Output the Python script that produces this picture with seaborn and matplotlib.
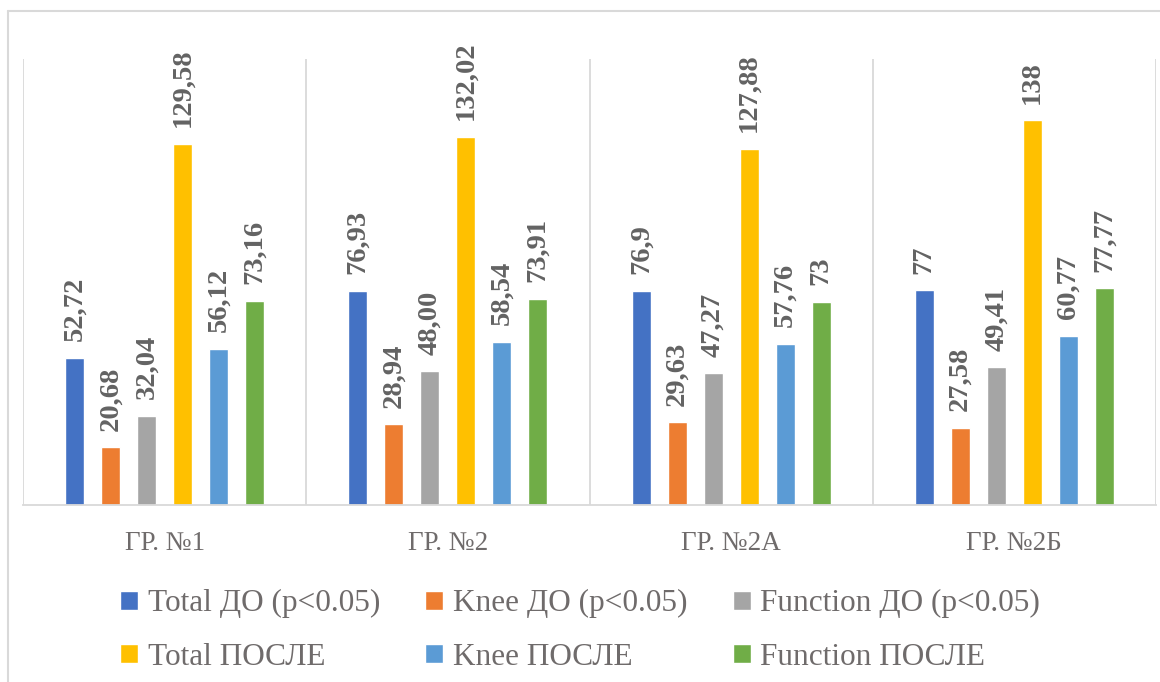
import matplotlib
matplotlib.use("Agg")
import matplotlib.pyplot as plt
from matplotlib.lines import Line2D
import pandas as pd
import seaborn as sns

# Groups and series
groups = ["ГР. №1", "ГР. №2", "ГР. №2А", "ГР. №2Б"]
series = ["Total ДО (p<0.05)", "Knee ДО (p<0.05)", "Function ДО (p<0.05)",
          "Total ПОСЛЕ", "Knee ПОСЛЕ", "Function ПОСЛЕ"]

# Values per series (as printed, decimal comma)
total_do = ["52,72", "76,93", "76,9", "77"]
knee_do = ["20,68", "28,94", "29,63", "27,58"]
function_do = ["32,04", "48,00", "47,27", "49,41"]
total_posle = ["129,58", "132,02", "127,88", "138"]
knee_posle = ["56,12", "58,54", "57,76", "60,77"]
function_posle = ["73,16", "73,91", "73", "77,77"]

colors = ["#4472C4", "#ED7D31", "#A5A5A5", "#FFC000", "#5B9BD5", "#70AD47"]

series_labels = [total_do, knee_do, function_do, total_posle, knee_posle, function_posle]

rows = []
for name, labels in zip(series, series_labels):
    for g, s in zip(groups, labels):
        rows.append({"group": g, "series": name, "value": float(s.replace(",", "."))})
df = pd.DataFrame(rows)

sns.set_theme(style="white")
plt.rcParams["font.family"] = ["Liberation Serif", "DejaVu Serif"]

fig = plt.figure(figsize=(11.6, 6.82), dpi=100)
ax = fig.add_axes([23 / 1160, 1 - 505 / 682, (1156 - 23) / 1160, (505 - 59) / 682])

sns.barplot(data=df, x="group", y="value", hue="series", order=groups,
            hue_order=series, palette=colors, saturation=1, width=0.763,
            gap=0.47, ax=ax, errorbar=None)

ax.set_ylim(0, 160)
ax.set_xlim(-0.5, len(groups) - 0.5)

# Category separators
for xb in [i - 0.5 for i in range(len(groups) + 1)]:
    ax.axvline(xb, color="#D9D9D9", lw=1.3, zorder=0)

for side in ["top", "right", "left"]:
    ax.spines[side].set_visible(False)
ax.spines["bottom"].set_color("#D9D9D9")
ax.spines["bottom"].set_linewidth(1.3)
ax.set_yticks([])
ax.set_xlabel("")
ax.set_ylabel("")
ax.tick_params(axis="x", length=0, pad=19, labelsize=19.5, labelcolor="#6f6b6b")

# Value labels
for cont, labels in zip(ax.containers, series_labels):
    ax.bar_label(cont, labels=labels, padding=12, rotation=90, fontsize=20.5,
                 fontweight="bold", color="#636363")

# Legend laid out in two rows of three
handles, labels = ax.get_legend_handles_labels()
ax.get_legend().remove()
order = [0, 3, 1, 4, 2, 5]
fig.legend([handles[i] for i in order], [labels[i] for i in order],
           loc="center", bbox_to_anchor=(0.5, 0.0755), ncol=3, frameon=False,
           fontsize=22.5, labelcolor="#6f6b6b", handlelength=0.58,
           handleheight=0.58, handletextpad=0.3, columnspacing=1.45,
           labelspacing=0.78)

# Chart frame
fig.add_artist(Line2D([8 / 1160, 1], [1 - 11 / 682, 1 - 11 / 682],
                      transform=fig.transFigure, color="#D9D9D9", lw=1.5))
fig.add_artist(Line2D([8 / 1160, 8 / 1160], [0, 1 - 11 / 682],
                      transform=fig.transFigure, color="#D9D9D9", lw=1.5))

fig.savefig("out.png", dpi=100)
